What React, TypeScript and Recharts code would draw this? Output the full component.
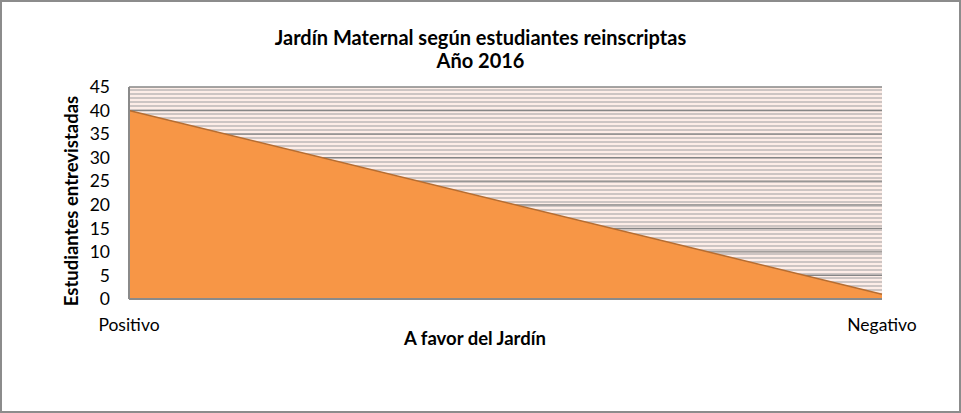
import { AreaChart, Area, XAxis, YAxis, CartesianGrid, Label } from 'recharts'

const categories = ['Positivo', 'Negativo']
const interviewed = [40, 1]
const yTicks = [0, 5, 10, 15, 20, 25, 30, 35, 40, 45]

const data = categories.map((name, i) => ({ name, value: interviewed[i] }))

const font = 'Lato, Calibri, "Liberation Sans", sans-serif'
const boldLabel = { fill: '#000', fontSize: 18.5, fontWeight: 700, fontFamily: font }

export default function App() {
  return (
    <div
      style={{
        position: 'absolute',
        left: 0,
        top: 0,
        width: 961,
        height: 413,
        boxSizing: 'border-box',
        border: '2px solid #8c8c8c',
        background: '#fff',
        fontFamily: font,
      }}
    >
      <div
        style={{
          position: 'absolute',
          left: 0,
          top: 24,
          width: 957,
          textAlign: 'center',
          fontWeight: 700,
          fontSize: 20,
          lineHeight: '23px',
          color: '#000',
        }}
      >
        Jardín Maternal según estudiantes reinscriptas
        <br />
        Año 2016
      </div>
      <div style={{ position: 'absolute', left: -2, top: -2 }}>
        <AreaChart
          width={961}
          height={413}
          data={data}
          margin={{ top: 87, right: 79, bottom: 84, left: 60 }}
        >
          <defs>
            <pattern id="stripes" patternUnits="userSpaceOnUse" width={8} height={4} y={87}>
              <rect x={0} y={0} width={8} height={4} fill="#fdede7" />
              <rect x={0} y={2.3} width={8} height={1.4} fill="#b9b5b4" />
            </pattern>
          </defs>
          <CartesianGrid
            vertical={false}
            fill="url(#stripes)"
            fillOpacity={1}
            stroke="#868686"
            strokeWidth={1.3}
          />
          <XAxis
            dataKey="name"
            height={30}
            tickLine={false}
            tickSize={0}
            axisLine={{ stroke: '#8a8a8a', strokeWidth: 2 }}
            tickMargin={20}
            tick={{ fill: '#000', fontSize: 17.5, fontFamily: font }}
          >
            <Label
              content={() => (
                <text x={475} y={345} textAnchor="middle" style={boldLabel}>
                  A favor del Jardín
                </text>
              )}
            />
          </XAxis>
          <YAxis
            domain={[0, 45]}
            ticks={yTicks}
            interval={0}
            width={69}
            tickLine={false}
            tickSize={0}
            tickMargin={19}
            axisLine={{ stroke: '#8a8a8a', strokeWidth: 2 }}
            tick={{ fill: '#000', fontSize: 17.5, fontFamily: font }}
          >
            <Label
              content={() => (
                <text
                  x={78}
                  y={201}
                  transform="rotate(-90 78 201)"
                  textAnchor="middle"
                  style={boldLabel}
                >
                  Estudiantes entrevistadas
                </text>
              )}
            />
          </YAxis>
          <Area
            type="linear"
            dataKey="value"
            fill="#f79646"
            fillOpacity={1}
            stroke="#b66d31"
            strokeWidth={1.5}
            dot={false}
            activeDot={false}
            isAnimationActive={false}
          />
        </AreaChart>
      </div>
    </div>
  )
}
